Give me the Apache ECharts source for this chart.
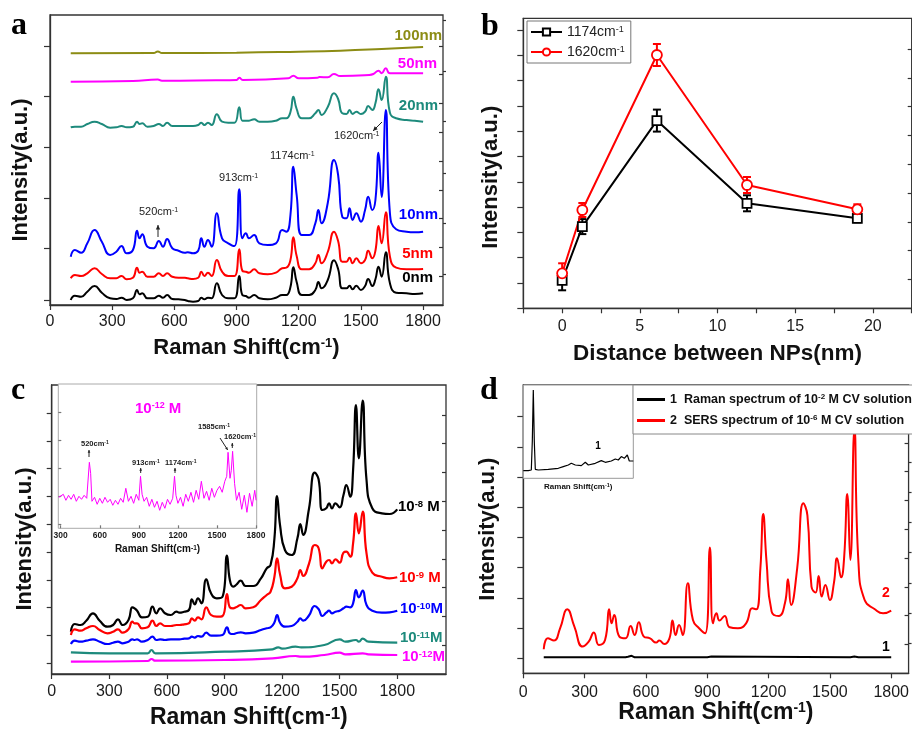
<!DOCTYPE html>
<html>
<head>
<meta charset="utf-8">
<script src="https://cdn.jsdelivr.net/npm/echarts@6/dist/echarts.min.js"></script>
<style>
html,body{margin:0;padding:0;background:#fff;}
#main{width:912px;height:731px;}
</style>
</head>
<body>
<div id="main"></div>
<script>
// ---- shared Raman shift grid (cm-1) for the CV spectra ----
var ramanShift = [100,120,150,180,215,250,290,320,345,370,400,420,432,445,470,500,525,545,565,590,
  620,650,665,690,715,730,745,762,780,805,830,860,890,913,928,945,960,985,1010,1050,
  1090,1120,1140,1160,1174,1190,1215,1250,1280,1295,1310,1340,1370,1390,1410,1430,1445,1460,1478,1500,
  1520,1535,1555,1570,1585,1600,1620,1640,1670,1720,1760,1800];

// panel a: gap between NPs
var gap0nm = [5,9.3,8.3,13.3,19, 12.3,6.7,6,7.3,5, 6.7,15,10.7,11.7,6.7, 6.7,9.3,7.3,10,6,
  5.7,5,4,3.3,4, 7.3,5.7,7.3,6.7,21.7, 10,6.7,6.7,29,10, 9,7.3,10,6.7,5.7,
  7.3,10,10,18,37.7, 23,10,10,15,23, 16.7,25,44.7,36,16.7, 16.7,19.3,15.7,19.3,15,
  19,26,19,25.7,38.3, 28.3,52.7,21.7,12.3,11.7, 11,11.7];
var gap5nm = [26.7,30,29,31.7,36.7, 31,26.7,26.7,29,25.7, 27.3,37.3,32.3,33.3,28.3, 28.3,31.7,29,31.7,28.3,
  27.3,27.3,26.7,26,27.3, 33.3,29,32.3,29,45, 33.3,29,29,55.7,34.3, 33.3,32.3,35.7,31.7,30.7,
  32.3,36.7,37.3,45,67.7, 49,35.7,35.7,41.7,50, 41.7,53,73.3,64,43.3, 43.3,47.3,41.7,46.7,41.7,
  45,54.3,46.7,54.3,79, 61.7,92.7,48.3,37.3,35.7, 35.7,36];
var gap10nm = [48.3,55,52.3,61.7,75, 63.3,50,53.3,59,51.7, 55,74.3,66.7,70.7,58.3, 56.7,64,58.3,66,56.7,
  54.3,52.3,52.7,51.7,54.3, 66.7,58.3,65,58.3,91.7, 66.7,61.7,59,115.7,66.7, 71.7,66.7,70,61.7,60,
  61.7,75,73.3,90,138.3, 110,70,70,81.7,95, 81.7,102,145,130,88.3, 86.7,96.7,85,91.7,83.3,
  95,108.3,95,105,152.3, 108,195,91.7,75.7,73.3, 72.7,73.3];
var gap20nm = [177.7,178.3,178.3,181,183.3, 181,177.3,177.7,179,177.7, 178.3,183.3,181,181.7,178.3, 179,181,179,182.3,179,
  179,179,179,179,180, 182.3,180,182.3,180,190.7, 183.3,182.3,182.3,197.7,184.3, 184.3,184.3,185.7,183.3,183.3,
  184.3,186.7,186.7,193,208.3, 196,186.7,186.7,191.7,195, 190,198,211.7,206,191.7, 191,195,191,193.3,191,
  193.3,199,195,201.7,215.7, 205,228.3,192.3,186.7,185, 184.3,183.3];
var gap50nmX = [100,400,520,540,800,900,913,930,1150,1174,1200,1290,1300,1340,1370,1400,1540,1560,1585,1600,1620,1640,1800];
var gap50nm = [223.3,224,225.5,224.3,224.7,225,227.3,225,226.7,229.3,226.7,227.3,228,227.7,231,229,230,231,234.3,231.7,236.7,231.7,231.7];
var gap100nmX = [100,500,520,540,900,1200,1400,1600,1800];
var gap100nm = [251.7,252,253.5,252,252.3,253.3,254.3,256,258];

// panel b: peak intensity vs distance
var distNm = [0, 1.3, 6.1, 11.9, 19];
var band1174 = [28, 81.7, 187.7, 105, 90];
var err1174 = [10, 7.5, 11, 8, 4];
var band1620 = [35, 98.3, 253.3, 123.3, 99];
var err1620 = [10, 7, 11, 8, 5];

// panel c: concentrations
var conc8 = [42.3,50,49,53.3,60.7, 53.3,47.3,49,54.7,49, 54,66.7,65.7,63.3,56.7, 57.3,67.3,60.7,65.7,60.7,
  59,62.3,61.3,62.3,64, 74.7,69.7,75.7,70.7,94.7, 80.7,75.7,77.3,118.3,94, 87.3,89,93.3,88,88,
  95.7,105.7,109,135,178, 148,124,119,135.7,150, 139,165,201.3,195,164, 165.7,170.7,165.7,170.7,166.7,
  179,189,177.3,204,269, 215.7,273.3,194,165.7,160.7, 160,164.7];
var conc9 = [39,44.7,43.3,45.7,48, 44,40.7,42.3,44.7,41.3, 44.7,52.3,50.7,50.7,45.7, 46.7,53.3,48,50.7,48,
  48,49,49,49.7,50.7, 55.7,53.3,56.7,54.7,66.7, 59,57.3,58,80,66.7, 65.7,66.7,69,65.7,66.7,
  74,79,82.3,97,115.7, 99,85.7,87.3,95.7,104, 98,110,129,126,105.7, 112.3,114,110.7,114.7,111.3,
  121.3,122.3,117.3,130.7,160.7, 140.7,162.3,120.7,101.3,97.3, 95.7,96.7];
var conc10 = [30,33.3,32.3,33.3,34.7, 32.3,30,31.3,32.3,30.7, 32.3,34.7,34,34.7,32.3, 34,37.3,34,34.7,34,
  34.7,34.7,34.7,35.3,35.7, 37.3,36.3,38,37.3,41.3, 38.3,38.3,39,46.7,40.7, 40,40.7,41.7,40.7,41.3,
  44,45.7,46.7,51.5,59, 51,47.3,48,52.3,55.7, 53.3,58.5,68,65,58, 61.3,63.3,60.7,62.3,63.3,
  65.7,67.3,66.7,70.7,84, 76.7,83.3,69,63.3,61.3, 61.7,63.3];
var conc11X = [100,300,500,520,540,900,1150,1180,1200,1270,1300,1420,1500,1530,1585,1600,1620,1650,1800];
var conc11 = [21.7,20.7,20.7,24,20.7,22.3,24.7,26.7,25.3,27.3,26.7,29,34.7,32.3,34,32.3,35.3,32.3,31.3];
var conc12X = [100,500,520,540,900,1150,1270,1300,1420,1500,1530,1620,1650,1800];
var conc12 = [12.3,13,15,13.3,14,15.7,18,17.3,19,21.3,19.7,20.7,19.7,19];

// panel c inset: 10^-12 M spectrum
var insetCX = [285,300,320,340,360,380,400,420,440,460,480,500,510,520,530,540,560,580,600,620,640,
  660,680,700,720,740,760,780,800,820,840,860,880,900,913,925,940,960,980,1000,1020,
  1040,1060,1080,1100,1120,1140,1160,1174,1185,1200,1220,1240,1260,1280,1300,1320,1340,1360,1380,1400,
  1420,1440,1460,1480,1500,1520,1540,1560,1575,1585,1600,1610,1620,1635,1650,1670,1690,1710,1730,1750,
  1770,1790,1800];
var insetC = [31,30,34,28,33,29,34,27,32,29,33,30,31,66,55,27,31,24,30,25,31,
  26,29,23,28,24,30,26,40,27,32,25,34,28,52,34,27,31,22,29,21,
  27,18,26,20,29,24,30,52,33,25,31,22,34,27,36,26,38,29,47,30,
  37,28,40,31,38,42,36,47,52,76,50,58,77,45,28,36,19,33,16,35,
  22,38,28];

// panel d
var sers = [24,35,32.7,45,64, 46.7,26.7,31.7,40.7,28.3, 33.3,64,50,58.3,36.7, 35,47.3,38.3,51,36.7,
  35,30.7,32.7,29.3,35, 52.7,38.3,48.3,38.3,90, 53.3,45,40,125.7,50, 60,52.7,57.3,46,45,
  50,65,64,105,159.3, 112,61.7,57.3,70,94, 68.3,105,170,158,86.7, 80.7,97.3,76.7,88.3,73.3,
  90.7,115,96,116.7,179.3, 113.3,244,110,73.3,64, 60,62.7];
var ramanSolX = [100,500,512,520,530,545,900,920,1600,1620,1640,1800];
var ramanSol = [16,16,16.5,18.5,17.5,16,16,16.7,16,16.7,16,16];
var insetDX = [0,5,8,9,10,11,12,15,25,35,40,45,48,52,58,62,65,72,78,82,88,92,95,98,101,104,106,110];
var insetD = [7.7,7.7,8.3,36.7,88.3,36.7,9,8.3,9,10,11.7,13.3,15,13.3,12.7,16,13.3,15,17.7,16,17.3,19.3,18.3,21.7,20,23.3,17.3,17.3];

// ---- ticks ----
var shiftTicks = [0,300,600,900,1200,1500,1800];
var distTicks = [0,5,10,15,20];
var distTickMarks = [-2.5,0,2.5,5,7.5,10,12.5,15,17.5,20,22.5];
var insetShiftTicks = [300,600,900,1200,1500,1800];
var aLeftMajor = [5,56.7,106.7,157.3,208.3,258.3];
var aLeftMinor = [31,82,132,183.3,233.3,284.3];
var bLeftMajor = [0,25.3,50.6,75.9,101.2,126.5,151.8,177.1,202.4,227.7,253,278.3];
var bLeftMinor = [12.7,38,63.3,88.6,113.9,139.2,164.5,189.8,215.1,240.4,265.7];
var cLeft = [10.7,38.5,66.3,94.1,121.9,149.7,177.5,205.3,233.1,260.9];
var dLeftMajor = [15,45.2,75.4,105.6,135.8,166,196.2,226.4,256.6];
var dLeftMinor = [30.1,60.3,90.5,120.7,150.9,181.1,211.3,241.5,271.7];
var rightTicks = [28.8,57.6,86.4,115.2,144,172.8,201.6,230.4,259.2];
var insetCLeft = [3.6,31.6,59.6,87.6,115.6];

var FONT = '"Liberation Sans", Arial, sans-serif';
var SERIF = '"Liberation Serif", "Times New Roman", serif';
var AX = '#333';
var C = {black:'#000000', red:'#ff0000', blue:'#0000ff', teal:'#1d8a7c', magenta:'#ff00ff', olive:'#8c8c14'};
var SMOOTH = 0.5;

var grids = [
  {left:50, top:15, width:393, height:290},          // a
  {left:523.3, top:18.3, width:388.4, height:290},   // b
  {left:51.7, top:385, width:394.3, height:289},     // c
  {left:58.3, top:384, width:198.4, height:144.3, z:10, backgroundColor:'#fff', borderColor:'#aaa', borderWidth:1}, // c inset
  {left:523.3, top:385, width:388.4, height:288.3},  // d
  {left:523.3, top:385, width:110, height:93.3, z:10, backgroundColor:'#fff', borderColor:'#999', borderWidth:1}    // d inset
];
grids.forEach(function(g){
  g.show = true;
  if (g.z === undefined) { g.z = 1; g.borderColor = AX; g.borderWidth = 1.3; g.backgroundColor = 'transparent'; }
});

var xAxes = [], yAxes = [], series = [], graphics = [];
function addX(o){ xAxes.push(o); return xAxes.length - 1; }
function addY(o){ yAxes.push(o); return yAxes.length - 1; }
function axis(grid, min, max, o) {
  var a = {type:'value', gridIndex:grid, min:min, max:max, splitLine:{show:false},
    axisLine:{show:false, onZero:false}, axisTick:{show:false}, axisLabel:{show:false}};
  for (var k in o) a[k] = o[k];
  return a;
}
function aline(w, c){ return {show:true, onZero:false, lineStyle:{color:c || AX, width:w || 1.3}}; }
function ticks(vals, len, inside, c){ return {show:true, customValues:vals, length:len, inside:!!inside, lineStyle:{color:c || AX, width:1.2}}; }
function labels(vals, size, margin, bold){
  return {show:true, customValues:vals, fontSize:size, margin:margin, color:'#1a1a1a', fontFamily:FONT,
    fontWeight:bold ? 'bold' : 'normal', formatter:function(v){ return String(v); }};
}
function shiftName(size, supSize, gap) {
  return {name:'{t|Raman Shift(cm}{s|-1}{t|)}', nameLocation:'middle', nameGap:gap,
    nameTextStyle:{rich:{
      t:{fontSize:size, fontWeight:'bold', fontFamily:FONT, color:'#111'},
      s:{fontSize:supSize, fontWeight:'bold', fontFamily:FONT, color:'#111', verticalAlign:'top'}}}};
}
function intensityName(gap, shift) {
  return {name:'Intensity(a.u.)', nameLocation:'middle', nameGap:gap,
    nameTextStyle:{fontSize:22, fontWeight:'bold', fontFamily:FONT, color:'#111', padding:[0, shift, 0, 0]}};
}
function merge(a, b){ for (var k in b) a[k] = b[k]; return a; }

// ---- panel a axes ----
var xa = addX(axis(0, 0, 1896, merge({axisLine:aline(), axisTick:ticks(shiftTicks, 5), axisLabel:labels(shiftTicks, 16, 9)}, shiftName(22, 13, 32))));
var ya = addY(axis(0, 0, 290, merge({axisLine:aline(), axisTick:ticks(aLeftMajor, 6)}, intensityName(18, 20))));
addY(axis(0, 0, 290, {axisTick:ticks(aLeftMinor, 3)}));
addY(axis(0, 0, 290, {position:'right', axisTick:ticks(rightTicks, 4, true)}));

// ---- panel b axes ----
var xb = addX(axis(1, -2.5, 22.5, {axisLine:aline(), axisTick:ticks(distTickMarks, 5), axisLabel:labels(distTicks, 16, 10),
  name:'Distance between NPs(nm)', nameLocation:'middle', nameGap:34,
  nameTextStyle:{fontSize:22.5, fontWeight:'bold', fontFamily:FONT, color:'#111'}}));
var yb = addY(axis(1, 0, 290, merge({axisLine:aline(), axisTick:ticks(bLeftMajor, 6)}, intensityName(21, 28))));
addY(axis(1, 0, 290, {axisTick:ticks(bLeftMinor, 3)}));
addY(axis(1, 0, 290, {position:'right', axisTick:ticks(rightTicks, 4, true)}));

// ---- panel c axes ----
var xc = addX(axis(2, 0, 2054, merge({axisLine:aline(), axisTick:ticks(shiftTicks, 5), axisLabel:labels(shiftTicks, 16, 10)}, shiftName(23, 17, 32))));
var yc = addY(axis(2, 0, 289, merge({axisLine:aline(), axisTick:ticks(cLeft, 5)}, intensityName(16, 19))));
addY(axis(2, 0, 289, {position:'right', axisTick:ticks(rightTicks, 4, true)}));
var xci = addX(axis(3, 281.6, 1805, merge({z:11, axisTick:ticks(insetShiftTicks, 3, true, '#777'), axisLabel:labels(insetShiftTicks, 8.5, 3, true)}, shiftName(10, 6.5, 16))));
var yci = addY(axis(3, 0, 144.3, {z:11, axisTick:ticks(insetCLeft, 3, true, '#777')}));

// ---- panel d axes ----
var xd = addX(axis(4, 0, 1885, merge({axisLine:aline(), axisTick:ticks(shiftTicks, 5), axisLabel:labels(shiftTicks, 16, 11)}, shiftName(23, 14, 27))));
var yd = addY(axis(4, 0, 288.3, merge({axisLine:aline(), axisTick:ticks(dLeftMajor, 6)}, intensityName(24, 0))));
addY(axis(4, 0, 288.3, {axisTick:ticks(dLeftMinor, 3)}));
addY(axis(4, 0, 288.3, {position:'right', axisTick:ticks(rightTicks, 4, true)}));
var xdi = addX(axis(5, 0, 110, {z:11, name:'{t|Raman Shift(cm}{s|-1}{t|)}', nameLocation:'middle', nameGap:4,
  nameTextStyle:{rich:{t:{fontSize:8, fontWeight:'bold', fontFamily:FONT, color:'#111'},
    s:{fontSize:5.5, fontWeight:'bold', fontFamily:FONT, color:'#111', verticalAlign:'top'}}}}));
var ydi = addY(axis(5, 0, 93.3, {z:11}));

// ---- series ----
function pairs(xs, ys){ return xs.map(function(x, i){ return [x, ys[i]]; }); }
function spectrum(name, xi, yi, xs, ys, color, width, smooth, z) {
  series.push({type:'line', name:name, xAxisIndex:xi, yAxisIndex:yi, data:pairs(xs, ys),
    symbol:'none', smooth:smooth, z:z || 2, silent:true,
    lineStyle:{color:color, width:width}, itemStyle:{color:color}});
}
spectrum('0nm', xa, ya, ramanShift, gap0nm, C.black, 2, SMOOTH);
spectrum('5nm', xa, ya, ramanShift, gap5nm, C.red, 2, SMOOTH);
spectrum('10nm', xa, ya, ramanShift, gap10nm, C.blue, 2, SMOOTH);
spectrum('20nm', xa, ya, ramanShift, gap20nm, C.teal, 2, SMOOTH);
spectrum('50nm', xa, ya, gap50nmX, gap50nm, C.magenta, 2, SMOOTH);
spectrum('100nm', xa, ya, gap100nmX, gap100nm, C.olive, 2, SMOOTH);

function errorBars(vals, errs, color) {
  series.push({type:'custom', xAxisIndex:xb, yAxisIndex:yb, z:3, silent:true,
    data:distNm.map(function(x, i){ return [x, vals[i], errs[i]]; }),
    renderItem:function(params, api){
      var x = api.value(0), y = api.value(1), e = api.value(2);
      var t = api.coord([x, y + e]), b = api.coord([x, y - e]);
      var st = {stroke:color, lineWidth:2};
      return {type:'group', children:[
        {type:'line', shape:{x1:t[0], y1:t[1], x2:b[0], y2:b[1]}, style:st},
        {type:'line', shape:{x1:t[0] - 4, y1:t[1], x2:t[0] + 4, y2:t[1]}, style:st},
        {type:'line', shape:{x1:b[0] - 4, y1:b[1], x2:b[0] + 4, y2:b[1]}, style:st}]};
    }});
}
errorBars(band1174, err1174, C.black);
errorBars(band1620, err1620, C.red);
series.push({type:'line', name:'1174', xAxisIndex:xb, yAxisIndex:yb, z:4, data:pairs(distNm, band1174),
  symbol:'rect', symbolSize:9, lineStyle:{color:C.black, width:2},
  itemStyle:{color:'#fff', borderColor:C.black, borderWidth:1.8}});
series.push({type:'line', name:'1620', xAxisIndex:xb, yAxisIndex:yb, z:4, data:pairs(distNm, band1620),
  symbol:'circle', symbolSize:10, lineStyle:{color:C.red, width:2},
  itemStyle:{color:'#fff', borderColor:C.red, borderWidth:1.8}});

spectrum('c8', xc, yc, ramanShift, conc8, C.black, 2.2, SMOOTH);
spectrum('c9', xc, yc, ramanShift, conc9, C.red, 2.2, SMOOTH);
spectrum('c10', xc, yc, ramanShift, conc10, C.blue, 2.2, SMOOTH);
spectrum('c11', xc, yc, conc11X, conc11, C.teal, 2.2, SMOOTH);
spectrum('c12', xc, yc, conc12X, conc12, C.magenta, 2.2, SMOOTH);
spectrum('c12inset', xci, yci, insetCX, insetC, C.magenta, 1, false, 12);

spectrum('raman', xd, yd, ramanSolX, ramanSol, C.black, 2, false);
spectrum('sers', xd, yd, ramanShift, sers, C.red, 2, SMOOTH);
spectrum('ramanInset', xdi, ydi, insetDX, insetD, C.black, 1.2, false, 12);

// ---- annotations ----
function rich(size, supSize, color, bold) {
  var w = bold ? 'bold' : 'normal';
  return {n:{fontSize:size, fontWeight:w, fontFamily:FONT, fill:color},
          s:{fontSize:supSize, fontWeight:w, fontFamily:FONT, fill:color, verticalAlign:'top'}};
}
function sup(a, s, b) { return '{n|' + a + '}{s|' + s + '}' + (b ? '{n|' + b + '}' : ''); }
function text(x, y, str, size, color, align, bold, supSize, family) {
  var st = {text:str, fill:color, fontSize:size, fontWeight:bold ? 'bold' : 'normal',
    fontFamily:family || FONT, align:align || 'left', verticalAlign:'middle'};
  if (supSize) st.rich = rich(size, supSize, color, bold);
  graphics.push({type:'text', x:x, y:y, z:20, silent:true, style:st});
}
function arrow(x1, y1, x2, y2, head, color) {
  var ang = Math.atan2(y2 - y1, x2 - x1);
  graphics.push({type:'line', z:20, silent:true, shape:{x1:x1, y1:y1, x2:x2, y2:y2}, style:{stroke:color, lineWidth:1}});
  graphics.push({type:'polygon', z:20, silent:true, shape:{points:[[x2, y2],
    [x2 - head * Math.cos(ang - 0.45), y2 - head * Math.sin(ang - 0.45)],
    [x2 - head * Math.cos(ang + 0.45), y2 - head * Math.sin(ang + 0.45)]]}, style:{fill:color}});
}

// panel letters
text(11, 26, 'a', 32, '#000', 'left', true, 0, SERIF);
text(481, 27, 'b', 32, '#000', 'left', true, 0, SERIF);
text(11, 391, 'c', 32, '#000', 'left', true, 0, SERIF);
text(480, 391, 'd', 32, '#000', 'left', true, 0, SERIF);

// panel a
text(442, 36, '100nm', 15, C.olive, 'right', true);
text(437, 64, '50nm', 15, C.magenta, 'right', true);
text(438, 106, '20nm', 15, C.teal, 'right', true);
text(438, 215, '10nm', 15, C.blue, 'right', true);
text(433, 254, '5nm', 15, C.red, 'right', true);
text(433, 278, '0nm', 15, C.black, 'right', true);
text(139, 212, sup('520cm', '-1'), 11, '#222', 'left', false, 7);
text(219, 178, sup('913cm', '-1'), 11, '#222', 'left', false, 7);
text(270, 156, sup('1174cm', '-1'), 11, '#222', 'left', false, 7);
text(334, 136, sup('1620cm', '-1'), 11, '#222', 'left', false, 7);
arrow(158, 237, 158, 225, 5, '#222');
arrow(382, 122, 373, 131, 5, '#222');

// panel c
text(398, 507, sup('10', '-8', ' M'), 15, C.black, 'left', true, 9.5);
text(399, 578, sup('10', '-9', ' M'), 15, C.red, 'left', true, 9.5);
text(400, 609, sup('10', '-10', 'M'), 15, C.blue, 'left', true, 9.5);
text(400, 638, sup('10', '-11', 'M'), 15, C.teal, 'left', true, 9.5);
text(402, 657, sup('10', '-12', 'M'), 15, C.magenta, 'left', true, 9.5);
text(135, 409, sup('10', '-12', ' M'), 15, C.magenta, 'left', true, 9);
text(81, 444, sup('520cm', '-1'), 7.5, '#222', 'left', true, 5);
text(132, 463, sup('913cm', '-1'), 7.5, '#222', 'left', true, 5);
text(165, 463, sup('1174cm', '-1'), 7.5, '#222', 'left', true, 5);
text(198, 427, sup('1585cm', '-1'), 7.5, '#222', 'left', true, 5);
text(224, 437, sup('1620cm', '-1'), 7.5, '#222', 'left', true, 5);
arrow(89, 457, 89, 450, 3, '#222');
arrow(140.7, 473, 140.7, 468, 3, '#222');
arrow(175, 473, 175, 468, 3, '#222');
arrow(220, 438, 227.7, 450, 3, '#222');
arrow(232.3, 448, 232.3, 443, 3, '#222');

// panel d
text(886, 593, '2', 14, C.red, 'center', true);
text(886, 647, '1', 14, C.black, 'center', true);
text(598, 446, '1', 10, C.black, 'center', true);

var legendRich = {a:{fontSize:14, fontFamily:FONT, color:'#222'}, s:{fontSize:9, fontFamily:FONT, color:'#222', verticalAlign:'top'}};
var legendRichD = {a:{fontSize:12.5, fontWeight:'bold', fontFamily:FONT, color:'#111'}, s:{fontSize:8, fontWeight:'bold', fontFamily:FONT, color:'#111', verticalAlign:'top'}};
var dNames = {raman:'{a|1  Raman spectrum of 10}{s|-2}{a| M CV solution}', sers:'{a|2  SERS spectrum of 10}{s|-6}{a| M CV solution}'};

var option = {
  animation:false,
  backgroundColor:'#fff',
  textStyle:{fontFamily:FONT},
  grid:grids, xAxis:xAxes, yAxis:yAxes, series:series, graphic:graphics,
  legend:[
    {data:['1174', '1620'], left:527, top:21, orient:'vertical', selectedMode:false, z:20,
      itemWidth:31, itemHeight:9, itemGap:6, padding:[4, 6, 4, 3],
      borderColor:'#777', borderWidth:1, backgroundColor:'#fff',
      formatter:function(n){ return '{a|' + n + 'cm}{s|-1}'; }, textStyle:{rich:legendRich}},
    {data:[{name:'raman', icon:'rect'}, {name:'sers', icon:'rect'}], left:633, top:385, orient:'vertical', selectedMode:false, z:20,
      itemWidth:28, itemHeight:3, itemGap:8, padding:[8, 6, 7, 4],
      borderColor:'#888', borderWidth:1, backgroundColor:'#fff',
      formatter:function(n){ return dNames[n]; }, textStyle:{rich:legendRichD}}
  ]
};
var chart = echarts.init(document.getElementById('main'));
chart.setOption(option);
</script>
</body>
</html>
